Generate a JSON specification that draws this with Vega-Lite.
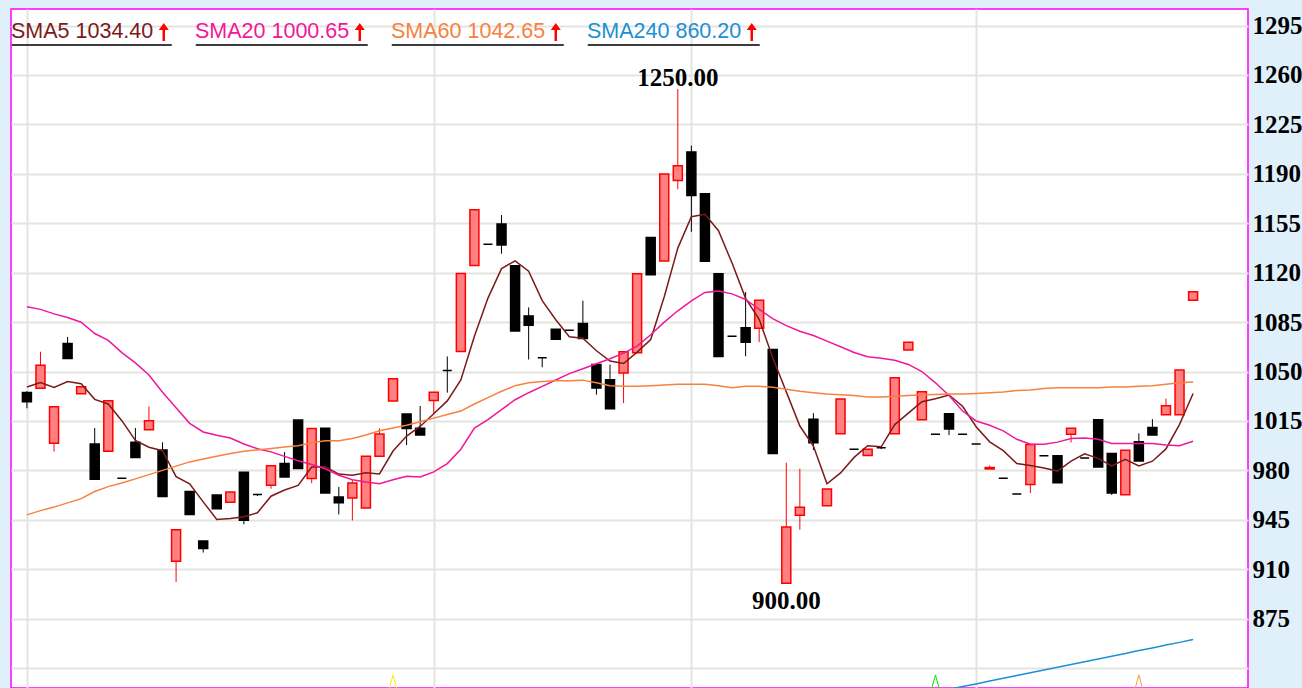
{
"$schema": "https://vega.github.io/schema/vega-lite/v6.json",
"width": 1237, "height": 679,
"autosize": {"type": "none"},
"padding": {"left": 11, "top": 9, "right": 54, "bottom": 0},
"background": "#e0f0fa",
"config": {"view": {"fill": "#ffffff", "stroke": "#ff00ff", "strokeWidth": 1.5}},
"datasets": {
"candles": [
{"i":1,"open":1035.2,"high":1036,"low":1024,"close":1028.6,"sma5":1039,"sma20":1095.9,"sma60":948.5},
{"i":2,"open":1038.2,"high":1064,"low":1038.2,"close":1054.5,"sma5":1042.2,"sma20":1094,"sma60":951.5},
{"i":3,"open":999.2,"high":1025,"low":993.3,"close":1025,"sma5":1038.7,"sma20":1090.8,"sma60":954},
{"i":4,"open":1069.8,"high":1074.5,"low":1059.2,"close":1059.2,"sma5":1042.9,"sma20":1088.3,"sma60":957},
{"i":5,"open":1034.2,"high":1039.2,"low":1034.2,"close":1039.2,"sma5":1041.3,"sma20":1084.9,"sma60":960},
{"i":6,"open":998.7,"high":1010,"low":973.8,"close":973.8,"sma5":1030.3,"sma20":1076.9,"sma60":965},
{"i":7,"open":993.5,"high":1029.3,"low":993.5,"close":1029.3,"sma5":1027,"sma20":1072,"sma60":968.5},
{"i":8,"open":974.5,"high":974.5,"low":974.5,"close":974.5,"sma5":1015.2,"sma20":1063.4,"sma60":971},
{"i":9,"open":999.9,"high":1010,"low":989.1,"close":989.1,"sma5":1001.2,"sma20":1056.1,"sma60":974},
{"i":10,"open":1008.8,"high":1025.3,"low":1008.8,"close":1015.2,"sma5":996.4,"sma20":1047.5,"sma60":977},
{"i":11,"open":994.5,"high":999.9,"low":961.5,"close":961.5,"sma5":993.9,"sma20":1035.3,"sma60":980},
{"i":12,"open":915.6,"high":938,"low":901,"close":938,"sma5":975.6,"sma20":1024.3,"sma60":983},
{"i":13,"open":965,"high":965,"low":948.8,"close":948.8,"sma5":970.5,"sma20":1013.3,"sma60":986},
{"i":14,"open":930,"high":930,"low":921.8,"close":924.6,"sma5":957.7,"sma20":1007.2,"sma60":988},
{"i":15,"open":962.5,"high":962.5,"low":952.8,"close":952.8,"sma5":945.3,"sma20":1004.8,"sma60":990},
{"i":16,"open":957.5,"high":964.6,"low":957.5,"close":964.6,"sma5":945.9,"sma20":1002.9,"sma60":992},
{"i":17,"open":978.7,"high":978.7,"low":941.8,"close":944.6,"sma5":947.2,"sma20":998.7,"sma60":993.5},
{"i":18,"open":963,"high":963,"low":961.9,"close":963,"sma5":950,"sma20":995.3,"sma60":994.5},
{"i":19,"open":969.4,"high":983.2,"low":967,"close":983.2,"sma5":961.7,"sma20":993.1,"sma60":995.5},
{"i":20,"open":984.8,"high":993,"low":975.3,"close":975.3,"sma5":966.1,"sma20":989.9,"sma60":996.5},
{"i":21,"open":1015.6,"high":1015.6,"low":981.3,"close":981.3,"sma5":969.4,"sma20":986.8,"sma60":997.5},
{"i":22,"open":974.2,"high":1009.7,"low":971,"close":1009.7,"sma5":982.4,"sma20":984.2,"sma60":999.5},
{"i":23,"open":1009.9,"high":1009.9,"low":964,"close":964,"sma5":982.6,"sma20":981.1,"sma60":1001},
{"i":24,"open":961.1,"high":968.2,"low":948.8,"close":957.1,"sma5":977.4,"sma20":976.5,"sma60":1001},
{"i":25,"open":960.4,"high":973,"low":944.5,"close":971.1,"sma5":976.6,"sma20":973.4,"sma60":1002.5},
{"i":26,"open":953.3,"high":990,"low":953.3,"close":990,"sma5":978.3,"sma20":971.8,"sma60":1005},
{"i":27,"open":990,"high":1009.7,"low":990,"close":1005.7,"sma5":977.5,"sma20":970.6,"sma60":1008},
{"i":28,"open":1029.1,"high":1044.8,"low":1029.1,"close":1044.8,"sma5":993.7,"sma20":973.4,"sma60":1010},
{"i":29,"open":1019.9,"high":1019.9,"low":997.9,"close":1009.7,"sma5":1004.3,"sma20":975.8,"sma60":1012},
{"i":30,"open":1009.9,"high":1025.6,"low":1005,"close":1005,"sma5":1011.1,"sma20":975.3,"sma60":1014.5},
{"i":31,"open":1029.4,"high":1035.3,"low":1020.4,"close":1035.3,"sma5":1020.1,"sma20":978.9,"sma60":1017},
{"i":32,"open":1050.7,"high":1060.7,"low":1035,"close":1050.7,"sma5":1029.2,"sma20":984.8,"sma60":1019.5},
{"i":33,"open":1064.2,"high":1119.4,"low":1064.2,"close":1119.4,"sma5":1044.1,"sma20":995,"sma60":1022},
{"i":34,"open":1125.1,"high":1164.5,"low":1125.1,"close":1164.5,"sma5":1075,"sma20":1010,"sma60":1027},
{"i":35,"open":1140.1,"high":1140.1,"low":1140.1,"close":1140.1,"sma5":1102,"sma20":1016,"sma60":1031.5},
{"i":36,"open":1154.4,"high":1160.8,"low":1133.4,"close":1139.6,"sma5":1122.9,"sma20":1023,"sma60":1036},
{"i":37,"open":1124.9,"high":1124.9,"low":1078.7,"close":1078.7,"sma5":1128.4,"sma20":1030,"sma60":1040},
{"i":38,"open":1089.4,"high":1095.4,"low":1058.5,"close":1082.8,"sma5":1121.1,"sma20":1035,"sma60":1042},
{"i":39,"open":1059.7,"high":1059.7,"low":1053,"close":1059.7,"sma5":1100.2,"sma20":1039.5,"sma60":1043},
{"i":40,"open":1079.9,"high":1079.9,"low":1072.8,"close":1072.8,"sma5":1086.7,"sma20":1044,"sma60":1043.5},
{"i":41,"open":1079.2,"high":1079.2,"low":1079.2,"close":1079.2,"sma5":1074.6,"sma20":1048.5,"sma60":1043.5},
{"i":42,"open":1084,"high":1100.2,"low":1073.3,"close":1073.3,"sma5":1073.6,"sma20":1052,"sma60":1043.9},
{"i":43,"open":1054.9,"high":1054.9,"low":1033.6,"close":1038.3,"sma5":1064.7,"sma20":1055.5,"sma60":1042},
{"i":44,"open":1044.2,"high":1054.9,"low":1023.6,"close":1023.6,"sma5":1057.4,"sma20":1059,"sma60":1040},
{"i":45,"open":1049,"high":1064,"low":1027.6,"close":1064,"sma5":1055.7,"sma20":1063,"sma60":1039.5},
{"i":46,"open":1063.3,"high":1119.2,"low":1063.3,"close":1119.2,"sma5":1063.7,"sma20":1068,"sma60":1039.5},
{"i":47,"open":1144.9,"high":1144.9,"low":1118.5,"close":1118.5,"sma5":1072.7,"sma20":1076,"sma60":1040},
{"i":48,"open":1128.2,"high":1189.8,"low":1128.2,"close":1189.8,"sma5":1103,"sma20":1085,"sma60":1040.5},
{"i":49,"open":1185.3,"high":1250,"low":1179.1,"close":1195.7,"sma5":1137.4,"sma20":1093,"sma60":1041},
{"i":50,"open":1205.5,"high":1210,"low":1148.9,"close":1174.6,"sma5":1159.6,"sma20":1100,"sma60":1041},
{"i":51,"open":1175.8,"high":1175.8,"low":1128,"close":1128,"sma5":1161.3,"sma20":1106,"sma60":1041},
{"i":52,"open":1119.2,"high":1119.2,"low":1060.6,"close":1060.6,"sma5":1149.7,"sma20":1107,"sma60":1040},
{"i":53,"open":1075,"high":1075,"low":1075,"close":1075,"sma5":1126.8,"sma20":1105,"sma60":1038.5},
{"i":54,"open":1081,"high":1106.3,"low":1060.8,"close":1070.8,"sma5":1101.8,"sma20":1101,"sma60":1039.5},
{"i":55,"open":1080.7,"high":1100.4,"low":1070.8,"close":1100.4,"sma5":1087,"sma20":1094,"sma60":1039.5},
{"i":56,"open":1065.6,"high":1065.6,"low":992,"close":992,"sma5":1059.8,"sma20":1087.5,"sma60":1038.8},
{"i":57,"open":900,"high":985.4,"low":900,"close":939.9,"sma5":1035.6,"sma20":1082.5,"sma60":1037.5},
{"i":58,"open":948.2,"high":981.2,"low":938,"close":953.9,"sma5":1011.4,"sma20":1078.5,"sma60":1036},
{"i":59,"open":1016.2,"high":1020.5,"low":994.4,"close":999.6,"sma5":997.2,"sma20":1075.5,"sma60":1035},
{"i":60,"open":955,"high":966.9,"low":955,"close":966.9,"sma5":970.5,"sma20":1071.5,"sma60":1034},
{"i":61,"open":1006,"high":1030.5,"low":1006,"close":1030.5,"sma5":978.2,"sma20":1067.5,"sma60":1033.5},
{"i":62,"open":994.9,"high":994.9,"low":994.9,"close":994.9,"sma5":989.2,"sma20":1063.5,"sma60":1033},
{"i":63,"open":990.6,"high":994.9,"low":990.6,"close":994.9,"sma5":997.4,"sma20":1060.5,"sma60":1032},
{"i":64,"open":996,"high":996,"low":995,"close":996,"sma5":996.7,"sma20":1059.4,"sma60":1032},
{"i":65,"open":1006,"high":1045.6,"low":1006,"close":1045.6,"sma5":1012.4,"sma20":1058,"sma60":1032.5},
{"i":66,"open":1065.3,"high":1070.8,"low":1065.3,"close":1070.8,"sma5":1020.5,"sma20":1055,"sma60":1033,"sma240":819},
{"i":67,"open":1015.8,"high":1035.7,"low":1015.8,"close":1035.7,"sma5":1028.6,"sma20":1050,"sma60":1033.5,"sma240":821},
{"i":68,"open":1005.5,"high":1005.5,"low":1005.5,"close":1005.5,"sma5":1030.7,"sma20":1042,"sma60":1033.7,"sma240":823},
{"i":69,"open":1020.1,"high":1020.1,"low":1005,"close":1009.3,"sma5":1033.4,"sma20":1033,"sma60":1034,"sma240":824.9},
{"i":70,"open":1005.5,"high":1005.5,"low":1005.5,"close":1005.5,"sma5":1025.4,"sma20":1022,"sma60":1034,"sma240":826.9},
{"i":71,"open":998.6,"high":998.6,"low":998.6,"close":998.6,"sma5":1010.9,"sma20":1015,"sma60":1034.4,"sma240":828.8},
{"i":72,"open":981,"high":983.5,"low":981,"close":982,"sma5":1000.2,"sma20":1012,"sma60":1035,"sma240":830.8},
{"i":73,"open":974.5,"high":974.5,"low":974.5,"close":974.5,"sma5":994,"sma20":1008,"sma60":1035.5,"sma240":832.8},
{"i":74,"open":963.3,"high":963.3,"low":963.3,"close":963.3,"sma5":984.8,"sma20":1002,"sma60":1036.5,"sma240":834.7},
{"i":75,"open":970,"high":998.4,"low":964,"close":998.4,"sma5":983.4,"sma20":998.5,"sma60":1037,"sma240":836.7},
{"i":76,"open":990.3,"high":990.3,"low":990.3,"close":990.3,"sma5":981.7,"sma20":998.5,"sma60":1038,"sma240":838.6},
{"i":77,"open":990.3,"high":990.3,"low":971.2,"close":971.2,"sma5":979.5,"sma20":1000,"sma60":1038.5,"sma240":840.6},
{"i":78,"open":1005.5,"high":1009.8,"low":999.8,"close":1009.8,"sma5":986.6,"sma20":1002.5,"sma60":1038.5,"sma240":842.6},
{"i":79,"open":988.8,"high":988.8,"low":988.8,"close":988.8,"sma5":991.7,"sma20":1003,"sma60":1038.5,"sma240":844.5},
{"i":80,"open":1015.8,"high":1015.8,"low":982.4,"close":982.4,"sma5":988.5,"sma20":1002,"sma60":1038.5,"sma240":846.5},
{"i":81,"open":991.9,"high":991.9,"low":962.6,"close":964,"sma5":983.2,"sma20":999,"sma60":1039,"sma240":848.4},
{"i":82,"open":962.8,"high":994.3,"low":962.8,"close":994.3,"sma5":987.9,"sma20":999,"sma60":1039,"sma240":850.4},
{"i":83,"open":1000.3,"high":1006.2,"low":986.7,"close":986.7,"sma5":983.2,"sma20":999,"sma60":1039.5,"sma240":852.4},
{"i":84,"open":1010.3,"high":1016.3,"low":1005,"close":1005,"sma5":986.5,"sma20":999,"sma60":1040,"sma240":854.3},
{"i":85,"open":1019.4,"high":1030.8,"low":1019.4,"close":1025.8,"sma5":995.2,"sma20":998,"sma60":1041,"sma240":856.3},
{"i":86,"open":1019.4,"high":1051.1,"low":1019.4,"close":1051.1,"sma5":1012.6,"sma20":997.5,"sma60":1042,"sma240":858.2},
{"i":87,"open":1100.5,"high":1106.5,"low":1100.5,"close":1106.5,"sma5":1034.4,"sma20":1000.65,"sma60":1042.65,"sma240":860.2}
],
"signals": [{"i":28,"kind":"A"},{"i":68,"kind":"B"},{"i":83,"kind":"C"}]
},
"layer": [
{
"data": {"name": "candles"},
"mark": {"type": "rule", "strokeWidth": 1, "clip": true},
"encoding": {
"x": {"field": "i", "type": "quantitative", "title": null, "scale": {"domain": [0.195, 90.68], "nice": false, "zero": false}, "axis": {"values": [1, 31, 50, 71], "labels": false, "ticks": false, "domain": false, "grid": true, "gridColor": "#e4e4e0", "gridWidth": 2}},
"y": {"field": "low", "type": "quantitative", "title": null, "scale": {"domain": [825.9, 1306.7], "nice": false, "zero": false}, "axis": {"orient": "right", "values": [840, 875, 910, 945, 980, 1015, 1050, 1085, 1120, 1155, 1190, 1225, 1260, 1295], "labelExpr": "datum.value < 850 ? '' : datum.label", "format": "d", "ticks": false, "domain": false, "grid": true, "gridColor": "#e4e4e0", "gridWidth": 2, "labelPadding": 4, "labelFont": "Liberation Serif", "labelFontSize": 25, "labelFontWeight": "bold", "labelColor": "#000000", "labelFlush": false, "labelOverlap": false, "labelBound": false}},
"y2": {"field": "high"},
"stroke": {"condition": {"test": "datum.close > datum.open", "value": "#ff0000"}, "value": "#000000"}
}
},
{
"data": {"name": "candles"},
"mark": {"type": "bar", "width": 9, "strokeWidth": 1.5, "clip": true},
"encoding": {
"x": {"field": "i", "type": "quantitative", "title": null, "scale": {"domain": [0.195, 90.68], "nice": false, "zero": false}, "axis": {"values": [1, 31, 50, 71], "labels": false, "ticks": false, "domain": false, "grid": true, "gridColor": "#e4e4e0", "gridWidth": 2}},
"y": {"field": "open", "type": "quantitative", "title": null, "scale": {"domain": [825.9, 1306.7], "nice": false, "zero": false}, "axis": {"orient": "right", "values": [840, 875, 910, 945, 980, 1015, 1050, 1085, 1120, 1155, 1190, 1225, 1260, 1295], "labelExpr": "datum.value < 850 ? '' : datum.label", "format": "d", "ticks": false, "domain": false, "grid": true, "gridColor": "#e4e4e0", "gridWidth": 2, "labelPadding": 4, "labelFont": "Liberation Serif", "labelFontSize": 25, "labelFontWeight": "bold", "labelColor": "#000000", "labelFlush": false, "labelOverlap": false, "labelBound": false}},
"y2": {"field": "close"},
"fill": {"condition": {"test": "datum.close > datum.open", "value": "#ff8080"}, "value": "#000000"},
"stroke": {"condition": {"test": "datum.close > datum.open", "value": "#ff0000"}, "value": "#000000"}
}
},
{
"data": {"name": "candles"},
"transform": [{"fold": ["sma5", "sma20", "sma60", "sma240"], "as": ["series", "ma"]}, {"filter": "isValid(datum.ma)"}],
"mark": {"type": "line", "strokeWidth": 1.5, "clip": true},
"encoding": {
"x": {"field": "i", "type": "quantitative", "title": null, "scale": {"domain": [0.195, 90.68], "nice": false, "zero": false}, "axis": {"values": [1, 31, 50, 71], "labels": false, "ticks": false, "domain": false, "grid": true, "gridColor": "#e4e4e0", "gridWidth": 2}},
"y": {"field": "ma", "type": "quantitative", "title": null, "scale": {"domain": [825.9, 1306.7], "nice": false, "zero": false}, "axis": {"orient": "right", "values": [840, 875, 910, 945, 980, 1015, 1050, 1085, 1120, 1155, 1190, 1225, 1260, 1295], "labelExpr": "datum.value < 850 ? '' : datum.label", "format": "d", "ticks": false, "domain": false, "grid": true, "gridColor": "#e4e4e0", "gridWidth": 2, "labelPadding": 4, "labelFont": "Liberation Serif", "labelFontSize": 25, "labelFontWeight": "bold", "labelColor": "#000000", "labelFlush": false, "labelOverlap": false, "labelBound": false}},
"stroke": {"field": "series", "type": "nominal", "scale": {"domain": ["sma5", "sma20", "sma60", "sma240"], "range": ["#7b1a1a", "#f0189a", "#f7823f", "#1d8fd4"]},
"legend": {"orient": "none", "legendX": 4, "legendY": 12, "direction": "horizontal", "title": null, "padding": 0, "columnPadding": 23,
"labelExpr": "datum.value == 'sma5' ? 'SMA5 1034.40' : datum.value == 'sma20' ? 'SMA20 1000.65' : datum.value == 'sma60' ? 'SMA60 1042.65' : 'SMA240 860.20'",
"labelFont": "Liberation Sans", "labelFontSize": 21.5, "labelLimit": 0, "labelOffset": -13.5, "symbolOffset": -12,
"symbolType": "M-0.5 3 L39.5 3 L39.5 3.5 L-0.5 3.5 Z", "symbolSize": 64, "symbolStrokeWidth": 0,
"encoding": {
"labels": {"fill": {"value": {"expr": "scale('stroke', datum.value)"}}},
"symbols": {
"shape": {"value": {"expr": "datum.value == 'sma5' ? 'M36.25 -0.5 L37.5 -2.25 L38.75 -0.5 Z M37.19 -0.5 L37.81 -0.5 L37.81 2.25 L37.19 2.25 Z M-0.5 3 L39.5 3 L39.5 3.5 L-0.5 3.5 Z' : 'M39.25 -0.5 L40.5 -2.25 L41.75 -0.5 Z M40.19 -0.5 L40.81 -0.5 L40.81 2.25 L40.19 2.25 Z M-0.5 3 L42.5 3 L42.5 3.5 L-0.5 3.5 Z'"}},
"fill": {"value": {"gradient": "linear", "x1": 0, "y1": 0, "x2": 0, "y2": 1, "stops": [{"offset": 0, "color": "#ff0000"}, {"offset": 0.85, "color": "#ff0000"}, {"offset": 0.85, "color": "#3c3c3c"}, {"offset": 1, "color": "#3c3c3c"}]}},
"fillOpacity": {"value": 1},
"strokeWidth": {"value": 0}
}
}}}
}
},
{
"data": {"name": "signals"},
"mark": {"type": "point", "shape": "M -0.55 1 L 0 -1 L 0.55 1", "filled": false, "size": 256, "strokeWidth": 1, "opacity": 1, "clip": true},
"encoding": {
"x": {"field": "i", "type": "quantitative", "title": null, "scale": {"domain": [0.195, 90.68], "nice": false, "zero": false}, "axis": {"values": [1, 31, 50, 71], "labels": false, "ticks": false, "domain": false, "grid": true, "gridColor": "#e4e4e0", "gridWidth": 2}},
"y": {"datum": 829.5, "type": "quantitative", "title": null, "scale": {"domain": [825.9, 1306.7], "nice": false, "zero": false}, "axis": {"orient": "right", "values": [840, 875, 910, 945, 980, 1015, 1050, 1085, 1120, 1155, 1190, 1225, 1260, 1295], "labelExpr": "datum.value < 850 ? '' : datum.label", "format": "d", "ticks": false, "domain": false, "grid": true, "gridColor": "#e4e4e0", "gridWidth": 2, "labelPadding": 4, "labelFont": "Liberation Serif", "labelFontSize": 25, "labelFontWeight": "bold", "labelColor": "#000000", "labelFlush": false, "labelOverlap": false, "labelBound": false}},
"stroke": {"condition": [{"test": "datum.kind == 'A'", "value": "#f2f200"}, {"test": "datum.kind == 'B'", "value": "#00e600"}], "value": "#ff9933"}
}
},
{
"data": {"name": "candles"},
"transform": [{"joinaggregate": [{"op": "max", "field": "high", "as": "hmax"}]}, {"filter": "datum.high == datum.hmax"}],
"mark": {"type": "text", "font": "Liberation Serif", "fontSize": 25, "fontWeight": "bold", "baseline": "alphabetic", "dy": -3, "color": "#000000"},
"encoding": {
"x": {"field": "i", "type": "quantitative", "title": null, "scale": {"domain": [0.195, 90.68], "nice": false, "zero": false}, "axis": {"values": [1, 31, 50, 71], "labels": false, "ticks": false, "domain": false, "grid": true, "gridColor": "#e4e4e0", "gridWidth": 2}},
"y": {"field": "high", "type": "quantitative", "title": null, "scale": {"domain": [825.9, 1306.7], "nice": false, "zero": false}, "axis": {"orient": "right", "values": [840, 875, 910, 945, 980, 1015, 1050, 1085, 1120, 1155, 1190, 1225, 1260, 1295], "labelExpr": "datum.value < 850 ? '' : datum.label", "format": "d", "ticks": false, "domain": false, "grid": true, "gridColor": "#e4e4e0", "gridWidth": 2, "labelPadding": 4, "labelFont": "Liberation Serif", "labelFontSize": 25, "labelFontWeight": "bold", "labelColor": "#000000", "labelFlush": false, "labelOverlap": false, "labelBound": false}},
"text": {"field": "high", "type": "quantitative", "format": ".2f"}
}
},
{
"data": {"name": "candles"},
"transform": [{"joinaggregate": [{"op": "min", "field": "low", "as": "lmin"}]}, {"filter": "datum.low == datum.lmin"}],
"mark": {"type": "text", "font": "Liberation Serif", "fontSize": 25, "fontWeight": "bold", "baseline": "alphabetic", "dy": 26, "color": "#000000"},
"encoding": {
"x": {"field": "i", "type": "quantitative", "title": null, "scale": {"domain": [0.195, 90.68], "nice": false, "zero": false}, "axis": {"values": [1, 31, 50, 71], "labels": false, "ticks": false, "domain": false, "grid": true, "gridColor": "#e4e4e0", "gridWidth": 2}},
"y": {"field": "low", "type": "quantitative", "title": null, "scale": {"domain": [825.9, 1306.7], "nice": false, "zero": false}, "axis": {"orient": "right", "values": [840, 875, 910, 945, 980, 1015, 1050, 1085, 1120, 1155, 1190, 1225, 1260, 1295], "labelExpr": "datum.value < 850 ? '' : datum.label", "format": "d", "ticks": false, "domain": false, "grid": true, "gridColor": "#e4e4e0", "gridWidth": 2, "labelPadding": 4, "labelFont": "Liberation Serif", "labelFontSize": 25, "labelFontWeight": "bold", "labelColor": "#000000", "labelFlush": false, "labelOverlap": false, "labelBound": false}},
"text": {"field": "low", "type": "quantitative", "format": ".2f"}
}
}
]
}
